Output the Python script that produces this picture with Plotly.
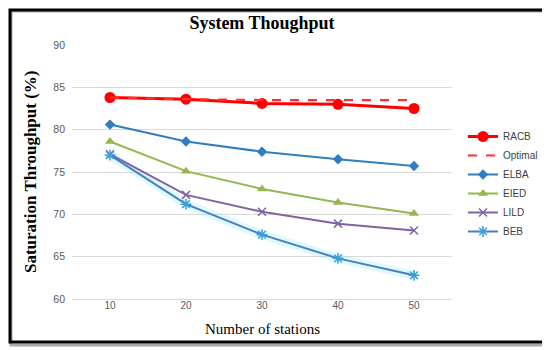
import plotly.graph_objects as go

stations = ["10", "20", "30", "40", "50"]
racb = [83.8, 83.6, 83.1, 83.0, 82.5]
optimal = [83.8, 83.6, 83.5, 83.5, 83.5]
elba = [80.6, 78.6, 77.4, 76.5, 75.7]
eied = [78.6, 75.1, 73.0, 71.4, 70.1]
lild = [77.1, 72.3, 70.3, 68.9, 68.1]
beb = [77.0, 71.2, 67.6, 64.8, 62.8]

OFF = 8  # page body margin
W, H = 550 - OFF, 350 - OFF
# plot area in page pixels
L, R, T, B = 72, 452, 45, 299

def px(x):
    return (x - L) / (R - L)

def py(y):
    return (B - y) / (B - T)

fig = go.Figure()
# soft glow behind BEB line
fig.add_trace(go.Scatter(x=stations, y=beb, mode="lines", showlegend=False, hoverinfo="skip",
                         line=dict(color="rgba(120,240,250,0.25)", width=9)))
fig.add_trace(go.Scatter(x=stations, y=racb, name="RACB", mode="lines+markers",
                         line=dict(color="#FF0000", width=3),
                         marker=dict(symbol="circle", size=11, color="#FF0000")))
fig.add_trace(go.Scatter(x=stations, y=optimal, name="Optimal", mode="lines",
                         line=dict(color="#FF3030", width=2.2, dash="dash")))
fig.add_trace(go.Scatter(x=stations, y=elba, name="ELBA", mode="lines+markers",
                         line=dict(color="#2E7EC0", width=2),
                         marker=dict(symbol="diamond", size=8, color="#2E7EC0")))
fig.add_trace(go.Scatter(x=stations, y=eied, name="EIED", mode="lines+markers",
                         line=dict(color="#92B84F", width=2),
                         marker=dict(symbol="triangle-up", size=9, color="#92B84F")))
fig.add_trace(go.Scatter(x=stations, y=lild, name="LILD", mode="lines+markers",
                         line=dict(color="#8064A2", width=2),
                         marker=dict(symbol="x-thin-open", size=8, color="#8064A2",
                                     line=dict(color="#8064A2", width=1.5))))
fig.add_trace(go.Scatter(x=stations, y=beb, name="BEB", mode="lines+markers",
                         line=dict(color="#4F7BC4", width=2),
                         marker=dict(symbol="asterisk-open", size=9, color="#3AA0D8",
                                     line=dict(color="#3AA0D8", width=1.5))))

fig.update_layout(
    width=W, height=H,
    margin=dict(l=L - OFF, r=550 - R, t=T - OFF, b=350 - B, autoexpand=False),
    paper_bgcolor="white", plot_bgcolor="white",
    showlegend=True,
    legend=dict(xref="container", yref="container", x=(463 - OFF) / W, y=1 - (122 - OFF) / H,
                xanchor="left", yanchor="top",
                font=dict(family="Liberation Sans", size=10, color="#404040"),
                bgcolor="rgba(0,0,0,0)", tracegroupgap=0, itemwidth=30),
    title=dict(text="<b>System Thoughput</b>", x=0.5, xref="paper", xanchor="center",
               y=1 - (23 - OFF) / H, yref="container", yanchor="middle",
               font=dict(family="Liberation Serif", size=18, color="black")),
    xaxis=dict(type="category", range=[-0.5, 4.5], showgrid=False, automargin=False,
               showline=True, linecolor="#D9D9D9", linewidth=1, ticks="",
               ticklabelstandoff=-3,
               tickfont=dict(family="Liberation Sans", size=10, color="#595959")),
    yaxis=dict(range=[60, 90], dtick=5, showgrid=True, gridcolor="#D9D9D9", automargin=False,
               zeroline=False, showline=False, ticks="", ticklabelstandoff=6,
               tickfont=dict(family="Liberation Sans", size=10.5, color="#595959")),
    annotations=[
        dict(text="<b>Saturation Throughput (%)</b>", textangle=-90, xref="paper", yref="paper",
             x=px(30), y=py(172), xanchor="center", yanchor="middle", showarrow=False,
             font=dict(family="Liberation Serif", size=17, color="black")),
        dict(text="Number of stations", xref="paper", yref="paper",
             x=px(262), y=py(329), xanchor="center", yanchor="middle", showarrow=False,
             font=dict(family="Liberation Serif", size=15, color="black")),
    ],
    shapes=[
        dict(type="rect", xref="paper", yref="paper", layer="above",
             x0=px(11), x1=px(547), y0=py(11), y1=py(345),
             line=dict(color="#A8A8A8", width=3)),
        dict(type="rect", xref="paper", yref="paper", layer="above",
             x0=px(10), x1=px(544), y0=py(10), y1=py(342),
             line=dict(color="black", width=3)),
    ],
)

fig.write_html("out.html")
